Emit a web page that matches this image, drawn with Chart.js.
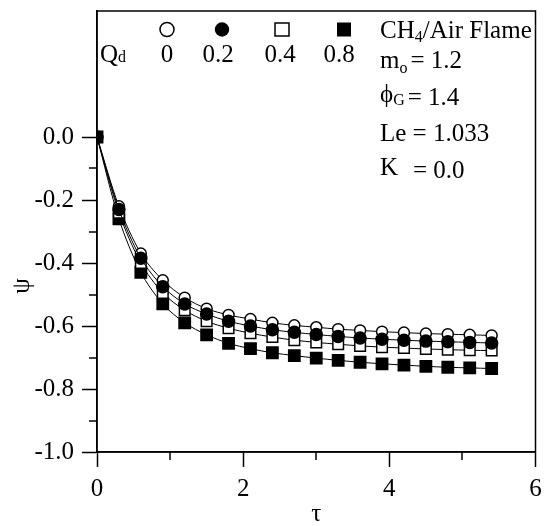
<!DOCTYPE html>
<html>
<head>
<meta charset="utf-8">
<script src="https://cdn.jsdelivr.net/npm/chart.js@4/dist/chart.umd.min.js"></script>
<style>
  html, body { margin: 0; padding: 0; background: #fff; }
  #wrap { width: 545px; height: 526px; }
</style>
</head>
<body>
<div id="wrap"><canvas id="myChart" width="545" height="526"></canvas></div>
<script>
// data
var tau = [0, 0.3, 0.6, 0.9, 1.2, 1.5, 1.8, 2.1, 2.4, 2.7, 3.0, 3.3, 3.6, 3.9, 4.2, 4.5, 4.8, 5.1, 5.4];
var psiQ0  = [0, -0.22, -0.37, -0.455, -0.51, -0.545, -0.565, -0.578, -0.59, -0.598, -0.604, -0.61, -0.614, -0.618, -0.621, -0.624, -0.626, -0.628, -0.63];
var psiQ02 = [0, -0.23, -0.385, -0.475, -0.53, -0.562, -0.585, -0.60, -0.612, -0.62, -0.627, -0.633, -0.638, -0.642, -0.645, -0.648, -0.65, -0.652, -0.654];
var psiQ04 = [0, -0.24, -0.40, -0.495, -0.55, -0.585, -0.607, -0.623, -0.635, -0.645, -0.652, -0.658, -0.663, -0.667, -0.67, -0.673, -0.675, -0.677, -0.678];
var psiQ08 = [0, -0.26, -0.43, -0.53, -0.59, -0.628, -0.655, -0.672, -0.685, -0.694, -0.702, -0.709, -0.715, -0.72, -0.724, -0.728, -0.731, -0.733, -0.735];

var qdLabels = ['0', '0.2', '0.4', '0.8'];
var xMinor = [1, 3, 5];
var yMinor = [-0.9, -0.7, -0.5, -0.3, -0.1];

var serif = '"Liberation Serif", "Times New Roman", serif';
var big = '25px ' + serif;
var small = '16px ' + serif;

function pts(ys) {
  var out = [];
  for (var i = 0; i < tau.length; i++) out.push({ x: tau[i], y: ys[i] });
  return out;
}

function ds(label, ys, style, filled, order, r) {
  return {
    label: label,
    data: pts(ys),
    borderColor: '#000',
    borderWidth: 1,
    pointStyle: style,
    pointRadius: r,
    pointBorderWidth: 1.5,
    pointBorderColor: '#000',
    pointBackgroundColor: filled ? '#000' : '#fff',
    tension: 0.3,
    order: order
  };
}

// text with a subscript: main, sub, rest
function subText(c, x, y, main, sub, subDy, rest, gap, restDy) {
  c.font = big;
  c.fillText(main, x, y);
  x += c.measureText(main).width;
  c.font = small;
  c.fillText(sub, x, y + subDy);
  x += c.measureText(sub).width + gap;
  c.font = big;
  c.fillText(rest, x, y + (restDy || 0));
}

var extras = {
  id: 'extras',
  afterDraw: function (chart) {
    var c = chart.ctx, a = chart.chartArea;
    var xs = chart.scales.x, ys = chart.scales.y;
    c.save();
    c.strokeStyle = '#000';
    c.lineWidth = 1.5;
    // box
    c.strokeRect(a.left, a.top, a.right - a.left, a.bottom - a.top);
    // minor ticks
    c.beginPath();
    xMinor.forEach(function (v) {
      var px = Math.round(xs.getPixelForValue(v));
      c.moveTo(px, a.bottom); c.lineTo(px, a.bottom + 8);
    });
    yMinor.forEach(function (v) {
      var py = Math.round(ys.getPixelForValue(v));
      c.moveTo(a.left - 8, py); c.lineTo(a.left, py);
    });
    c.stroke();

    // y title
    c.fillStyle = '#000';
    c.font = big;
    c.textAlign = 'center';
    c.textBaseline = 'middle';
    c.save();
    c.translate(22, 286);
    c.rotate(-Math.PI / 2);
    c.fillText('ψ', 0, 0);
    c.restore();

    // legend markers
    c.lineWidth = 1.5;
    c.beginPath(); c.arc(167, 29.5, 7, 0, Math.PI * 2); c.fillStyle = '#fff'; c.fill(); c.stroke();
    c.beginPath(); c.arc(222, 29.5, 7.2, 0, Math.PI * 2); c.fillStyle = '#000'; c.fill();
    c.strokeRect(275, 23, 14, 13);
    c.fillRect(337, 22.5, 14, 14);

    // legend labels
    c.fillStyle = '#000';
    c.textBaseline = 'alphabetic';
    c.textAlign = 'left';
    subText(c, 100, 62, 'Q', 'd', 0, '', 0);
    c.font = big;
    c.textAlign = 'center';
    var lx = [167, 218, 280, 339];
    qdLabels.forEach(function (t, i) { c.fillText(t, lx[i], 62); });

    // parameters
    c.textAlign = 'left';
    subText(c, 380, 38, 'CH', '4', 4, '/Air Flame', 0);
    subText(c, 380, 68, 'm', 'o', 5, '= 1.2', 3);
    subText(c, 380, 102, 'ϕ', 'G', 3, '= 1.4', 3, 3);
    c.font = big;
    c.fillText('Le = 1.033', 380, 141);
    c.fillText('K', 380, 175);
    c.fillText('= 0.0', 413, 178);
    c.restore();
  }
};

var ctx = document.getElementById('myChart').getContext('2d');
var myChart = new Chart(ctx, {
  type: 'line',
  data: {
    datasets: [
      ds('0', psiQ0, 'circle', false, 3, 5.5),
      ds('0.2', psiQ02, 'circle', true, 1, 6),
      ds('0.4', psiQ04, 'rect', false, 2, 7.5),
      ds('0.8', psiQ08, 'rect', true, 4, 8)
    ]
  },
  options: {
    responsive: false,
    animation: false,
    devicePixelRatio: 1,
    layout: { padding: { top: 11, right: 8, left: 0, bottom: 0 } },
    plugins: { legend: { display: false }, tooltip: { enabled: false } },
    scales: {
      x: {
        type: 'linear',
        min: 0, max: 6,
        border: { color: '#000', width: 1.5 },
        grid: { drawOnChartArea: false, drawTicks: true, tickLength: 15, tickWidth: 1.5, tickColor: '#000' },
        ticks: { stepSize: 2, color: '#000', font: { family: serif, size: 25 }, padding: 7, maxRotation: 0 },
        title: { display: true, text: 'τ', color: '#000', font: { family: serif, size: 25, lineHeight: 0.9 }, padding: { top: 0, bottom: 0 } },
        afterFit: function (scale) { scale.height = 74; scale.paddingRight = 0; scale.paddingLeft = 0; }
      },
      y: {
        min: -1.0, max: 0.4,
        border: { color: '#000', width: 1.5 },
        grid: {
          drawOnChartArea: false, drawTicks: true, tickLength: 15, tickWidth: 1.5,
          tickColor: function (c) { return c.tick && c.tick.value > 0.001 ? 'rgba(0,0,0,0)' : '#000'; }
        },
        ticks: {
          stepSize: 0.2, color: '#000', font: { family: serif, size: 25 }, padding: 8,
          callback: function (v) {
            if (v > 0.001) return '';
            if (Math.abs(v) < 1e-9) return '0.0';
            return v.toFixed(1);
          }
        },
        afterFit: function (scale) { scale.width = 97; scale.paddingTop = 0; scale.paddingBottom = 0; }
      }
    }
  },
  plugins: [extras]
});
</script>
</body>
</html>
